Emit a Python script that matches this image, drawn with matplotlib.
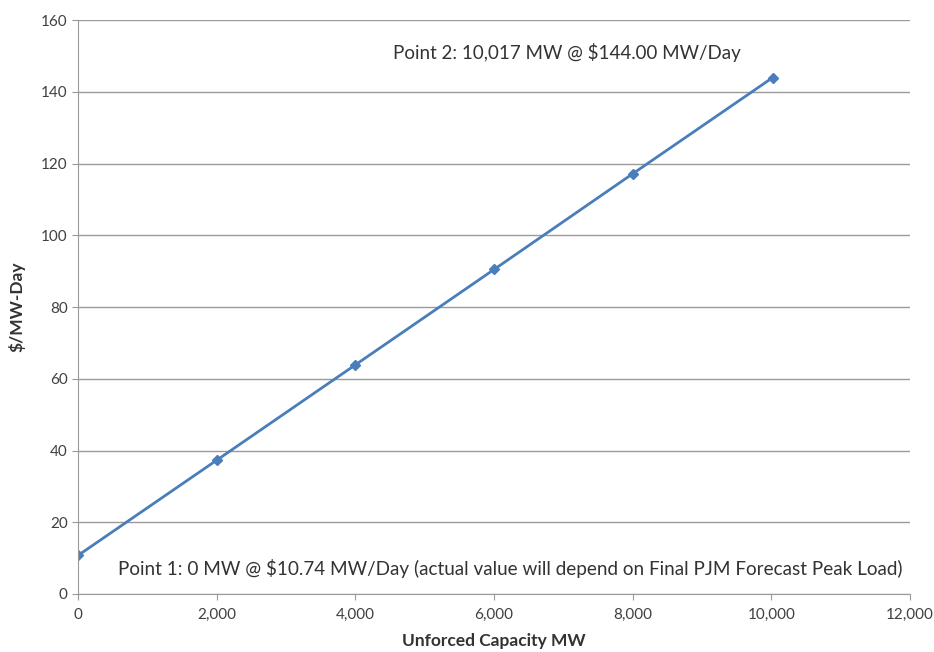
import matplotlib.pyplot as plt
from matplotlib.ticker import FuncFormatter

plt.rcParams['font.family'] = ['Lato', 'DejaVu Sans']

# values
capacity_mw = [0, 2000, 4000, 6000, 8000, 10017]
price = [10.74, 37.3, 63.9, 90.5, 117.2, 144.0]

fig = plt.figure(figsize=(9.34, 6.52), dpi=100)
ax = fig.add_axes([0.0835, 0.089, 0.891, 0.880])

ax.plot(capacity_mw, price, color='#4a7ebb', linewidth=2, marker='D', markersize=5)

ax.set_xlim(0, 12000)
ax.set_ylim(0, 160)
ax.set_xticks(range(0, 12001, 2000))
ax.set_yticks(range(0, 161, 20))
ax.xaxis.set_major_formatter(FuncFormatter(lambda v, p: f'{int(v):,}'))
ax.yaxis.grid(True, color='#9a9a9a', linewidth=1)
ax.set_axisbelow(True)

for s in ['top', 'right']:
    ax.spines[s].set_visible(False)
for s in ['left', 'bottom']:
    ax.spines[s].set_color('#9a9a9a')
ax.tick_params(colors='#9a9a9a', labelcolor='#404040', labelsize=11, length=4)
ax.tick_params(axis='x', pad=6)

ax.set_xlabel('Unforced Capacity MW', fontsize=12.5, fontweight='bold', color='#333333', labelpad=8)
ax.set_ylabel('$/MW-Day', fontsize=12.5, fontweight='bold', color='#333333', labelpad=11)

ax.text(4540, 151, 'Point 2: 10,017 MW @ $144.00 MW/Day', fontsize=13.5, color='#333333', va='center')
ax.text(580, 7.2, 'Point 1: 0 MW @ $10.74 MW/Day (actual value will depend on Final PJM Forecast Peak Load)',
        fontsize=13.6, color='#333333', va='center')

fig.savefig('out.png', dpi=100)
